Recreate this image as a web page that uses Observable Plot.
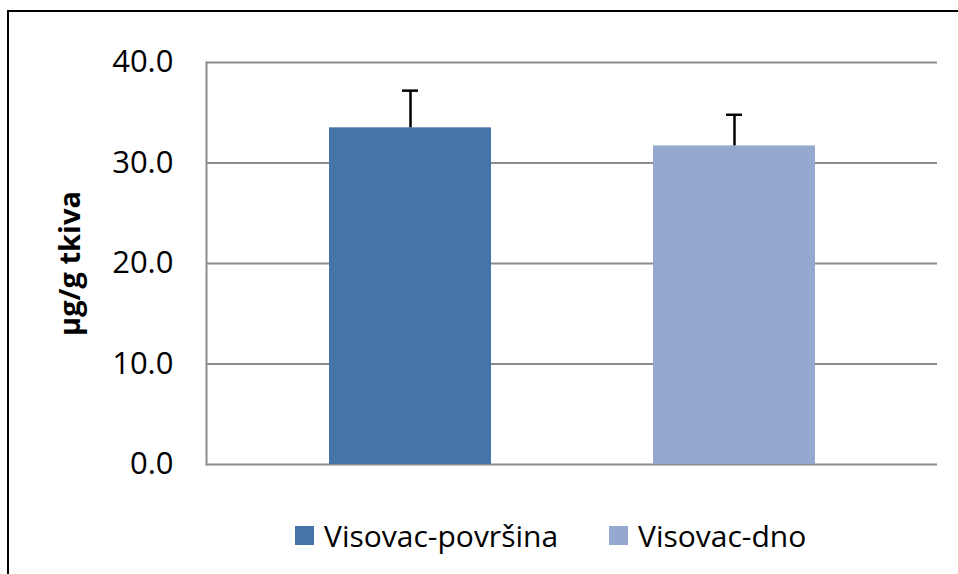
<!DOCTYPE html>
<html>
<head>
<meta charset="utf-8">
<script src="https://cdn.jsdelivr.net/npm/d3@7"></script>
<script src="https://cdn.jsdelivr.net/npm/@observablehq/plot@0.6"></script>
<style>
  html, body { margin: 0; padding: 0; background: #fff; }
  #wrap { position: relative; width: 958px; height: 574px; overflow: hidden; font-family: "Open Sans", sans-serif; }
  #border { position: absolute; left: 7px; top: 10px; width: 1000px; height: 600px; border-left: 2.5px solid #000; border-top: 2.5px solid #000; box-sizing: border-box; }
  #chart { position: absolute; left: 0; top: 0; }
  #legend { position: absolute; top: 515px; left: 0; width: 958px; height: 40px; }
  .item { position: absolute; top: 0; display: flex; align-items: center; height: 40px; font-size: 30px; color: #000; }
  .sw { width: 19px; height: 19px; margin-right: 10px; }
</style>
</head>
<body>
<div id="wrap">
  <div id="border"></div>
  <div id="chart"></div>
  <div id="legend"></div>
</div>
<script>
const categories = ["Visovac-površina", "Visovac-dno"];
const values = [33.5, 31.7];
const errors = [3.7, 3.1];
const yTicks = [0, 10, 20, 30, 40];
const yLabel = "µg/g tkiva";
const colors = ["#4674A8", "#95A9D0"];

const data = categories.map((c, i) => ({ name: c, value: values[i], err: errors[i] }));

const chart = Plot.plot({
  width: 958,
  height: 500,
  marginTop: 62,
  marginBottom: 36,
  marginLeft: 206,
  marginRight: 21,
  style: { fontFamily: "Open Sans, sans-serif", background: "transparent", color: "#000" },
  x: { domain: categories, paddingInner: 0.5, paddingOuter: 0.375, axis: null },
  y: { domain: [0, 40], ticks: yTicks, label: null },
  color: { domain: categories, range: colors },
  marks: [
    Plot.ruleY(yTicks, { stroke: "#8C8C8C", strokeWidth: 2 }),
    Plot.frame({ anchor: "left", stroke: "#8C8C8C", strokeWidth: 2 }),
    Plot.axisY({ ticks: yTicks, tickSize: 0, tickPadding: 33, fontSize: 31, tickFormat: d => d.toFixed(1), label: null }),
    Plot.barY(data, { x: "name", y: "value", fill: "name" }),
    Plot.ruleX(data, { x: "name", y1: "value", y2: d => d.value + d.err, stroke: "#000", strokeWidth: 2.5 }),
    Plot.tickY(data, { x: "name", y: d => d.value + d.err, stroke: "#000", strokeWidth: 2.5, insetLeft: 73, insetRight: 73 }),
    Plot.text([yLabel], { frameAnchor: "left", textAnchor: "middle", rotate: -90, dx: -136, fontWeight: "bold", fontSize: 29, fill: "#000" })
  ]
});
document.getElementById("chart").appendChild(chart);

const legend = document.getElementById("legend");
const legendX = [295, 609];
categories.forEach((c, i) => {
  const item = document.createElement("div");
  item.className = "item";
  item.style.left = legendX[i] + "px";
  const sw = document.createElement("div");
  sw.className = "sw";
  sw.style.background = colors[i];
  const t = document.createElement("span");
  t.textContent = c;
  item.appendChild(sw);
  item.appendChild(t);
  legend.appendChild(item);
});
</script>
</body>
</html>
